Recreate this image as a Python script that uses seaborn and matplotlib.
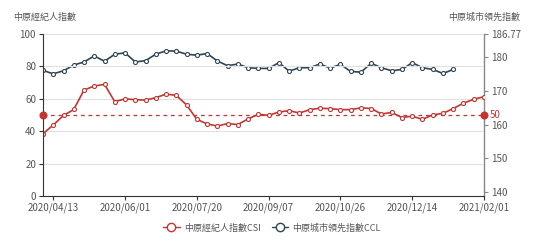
import matplotlib
matplotlib.use("Agg")
import matplotlib.pyplot as plt
import seaborn as sns
import pandas as pd
from matplotlib.lines import Line2D

# ---- data ----
start_date = "2020-04-06"
csi = [38.5, 43.8, 49.7, 53.4, 65.4, 67.9, 68.9, 58.2, 60.0, 59.4,
       59.2, 60.7, 62.9, 62.1, 56.2, 47.3, 44.5, 43.2, 44.7, 44.1,
       47.6, 50.4, 49.8, 51.8, 52.7, 51.2, 53.3, 54.2, 53.9, 53.3,
       53.3, 54.4, 54.0, 50.6, 51.6, 48.4, 49.3, 47.3, 50.1, 51.0,
       54.0, 57.3, 59.7, 61.3]
ccl = [176.0, 175.0, 175.9, 177.6, 178.5, 180.3, 178.7, 180.8, 181.2, 178.5,
       178.9, 180.8, 181.8, 181.7, 180.8, 180.5, 181.0, 178.8, 177.4, 177.9,
       176.8, 176.6, 176.6, 178.3, 175.8, 176.8, 176.8, 177.9, 176.7, 177.8,
       175.7, 175.5, 178.1, 176.8, 175.9, 176.3, 178.3, 176.8, 176.3, 175.1,
       176.3]
xtick_labels = ["2020/04/13", "2020/06/01", "2020/07/20", "2020/09/07",
                "2020/10/26", "2020/12/14", "2021/02/01"]
left_ticks = [0, 20, 40, 60, 80, 100]
right_ticks = [140, 150, 160, 170, 180, 186.77]
mark_value = 50
csi_name = "中原經紀人指數CSI"
ccl_name = "中原城市領先指數CCL"
left_title = "中原經紀人指數"
right_title = "中原城市領先指數"

dates = pd.date_range(start_date, periods=len(csi), freq="7D")
df_csi = pd.DataFrame({"date": dates, "value": csi})
df_ccl = pd.DataFrame({"date": dates[:len(ccl)], "value": ccl})

# ---- style ----
sns.set_theme(style="white")
plt.rcParams["font.family"] = ["Noto Sans CJK TC", "DejaVu Sans"]

RED = "#c23531"
DARK = "#2f4554"
TXT = "#555555"

fig = plt.figure(figsize=(5.44, 2.43), dpi=100)
ax = fig.add_axes([43 / 544, 1 - 196 / 243, (484 - 43) / 544, (196 - 34) / 243])
ax2 = ax.twinx()

ax.set_zorder(ax2.get_zorder() + 1)
ax.patch.set_visible(False)

sns.lineplot(data=df_ccl, x="date", y="value", ax=ax2, color=DARK, lw=1.2,
             marker="o", markersize=2.9, markerfacecolor="white",
             markeredgecolor=DARK, markeredgewidth=0.8, legend=False)
sns.lineplot(data=df_csi, x="date", y="value", ax=ax, color=RED, lw=1.2,
             marker="o", markersize=2.9, markerfacecolor="white",
             markeredgecolor=RED, markeredgewidth=0.8, legend=False)

xmin, xmax = dates[0], dates[-1]
ax.set_xlim(xmin, xmax)
ax.set_ylim(0, 100)
ax2.set_ylim(138.9, 186.77)

# mark line at 50
ax.axhline(mark_value, color=RED, ls=(0, (3, 3)), lw=0.9, zorder=1)
ax.plot([xmin, xmax], [mark_value, mark_value], ls="none", marker="o",
        markersize=4.8, color=RED, clip_on=False, zorder=5)
ax.text(1.012, mark_value, str(mark_value), transform=ax.get_yaxis_transform(),
        color=RED, fontsize=7, va="center", ha="left")

# grid
ax.set_yticks(left_ticks)
ax.yaxis.grid(True, color="#e0e0e0", lw=0.8)
ax.xaxis.grid(False)
ax2.grid(False)

tick_dates = pd.to_datetime([s.replace("/", "-") for s in xtick_labels])
ax.set_xticks(tick_dates)
ax.set_xticklabels(xtick_labels)
ax2.set_yticks(right_ticks)
ax2.set_yticklabels([f"{t:g}" for t in right_ticks])

for a in (ax, ax2):
    a.set_xlabel("")
    a.set_ylabel("")
    a.spines["top"].set_visible(False)

ax.spines["left"].set_color("#333333")
ax.spines["bottom"].set_color("#333333")
ax.spines["right"].set_visible(False)
ax2.spines["left"].set_visible(False)
ax2.spines["bottom"].set_visible(False)
ax2.spines["right"].set_color("#888888")
for s in ("left", "bottom"):
    ax.spines[s].set_linewidth(0.8)
ax2.spines["right"].set_linewidth(1.0)

ax.tick_params(axis="y", length=3, width=0.8, color="#333333", labelsize=7,
               labelcolor=TXT, pad=2, left=True)
ax.tick_params(axis="x", length=3, width=0.8, color="#333333", labelsize=7,
               labelcolor=TXT, pad=2, bottom=True)
ax2.tick_params(axis="y", length=3, width=0.8, color="#888888", labelsize=7,
                labelcolor=TXT, pad=2, right=True)

fig.text(13 / 544, 1 - 17 / 243, left_title, fontsize=6.5, color=TXT,
         ha="left", va="center")
fig.text(520 / 544, 1 - 17 / 243, right_title, fontsize=6.5, color=TXT,
         ha="right", va="center")

# legend
handles = [
    Line2D([], [], color=RED, lw=1.0, marker="o", markersize=6,
           markerfacecolor="white", markeredgecolor=RED, markeredgewidth=1.0),
    Line2D([], [], color=DARK, lw=1.0, marker="o", markersize=6,
           markerfacecolor="white", markeredgecolor=DARK, markeredgewidth=1.0),
]
leg = fig.legend(handles, [csi_name, ccl_name], loc="center",
                 bbox_to_anchor=(272 / 544, 1 - 228 / 243), ncol=2,
                 frameon=False, fontsize=6.5, handlelength=1.8,
                 handletextpad=0.5, columnspacing=1.2)
for t in leg.get_texts():
    t.set_color(TXT)

fig.savefig("out.png", dpi=100)
